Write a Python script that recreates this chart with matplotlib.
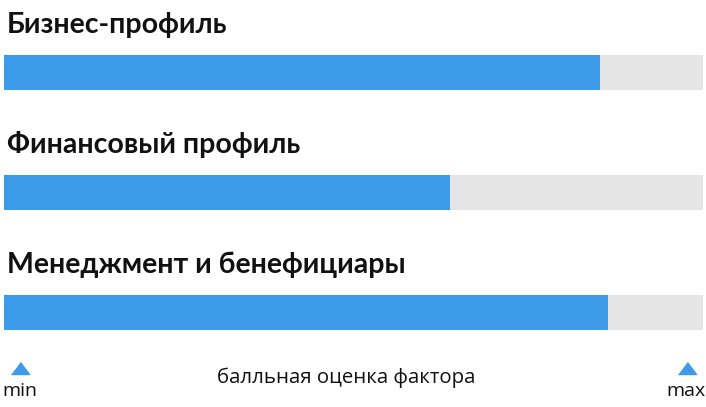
import matplotlib
matplotlib.use("Agg")
import matplotlib.pyplot as plt

# ---- data ----
factors = ["Бизнес-профиль", "Финансовый профиль", "Менеджмент и бенефициары"]
scores = [85.3, 63.8, 86.4]
score_max = 100
axis_label = "балльная оценка фактора"
min_label = "min"
max_label = "max"

W, H = 706, 407
BLUE = "#3d9be9"
TRACK = "#e5e5e5"
INK = "#111111"


def fx(px):
    return px / W


def fy(py):
    return 1 - py / H


fig = plt.figure(figsize=(W / 100, H / 100), dpi=100)

# bar axes: x spans the track, y in category units (row pitch 120 px)
track_left, track_right = 3.5, 703
ax = fig.add_axes([fx(track_left), 0, fx(track_right - track_left), 1])
ax.set_xlim(0, score_max)
first_center, pitch = 72.5, 120
ax.set_ylim((H - first_center) / pitch, -first_center / pitch)
ax.axis("off")

rows = range(len(factors))
bar_h = 35 / pitch
ax.barh(rows, [score_max] * len(factors), height=bar_h, color=TRACK, left=0)
ax.barh(rows, scores, height=bar_h, color=BLUE, left=0)

title_font = ["Lato", "DejaVu Sans"]
for i, name in enumerate(factors):
    fig.text(fx(7), fy(33 + pitch * i), name, fontsize=20.5, fontweight="bold",
             family=title_font, color=INK, ha="left", va="baseline")

# min / max markers and axis caption
label_font = ["Open Sans", "DejaVu Sans"]
tri = [(-1.5, -1), (1.5, -1), (0, 1)]
for xpix in (20, 687):
    fig.lines.append(plt.Line2D([fx(xpix)], [fy(367.5)], marker=tri, markersize=13,
                                color=BLUE, linestyle="none", transform=fig.transFigure))
fig.text(fx(2), fy(396), min_label, fontsize=14, family=label_font, color=INK,
         ha="left", va="baseline")
fig.text(fx(706), fy(396), max_label, fontsize=14, family=label_font, color=INK,
         ha="right", va="baseline")
fig.text(fx(346), fy(383), axis_label, fontsize=14.7, family=label_font, color=INK,
         ha="center", va="baseline")

fig.savefig("out.png", dpi=100)
